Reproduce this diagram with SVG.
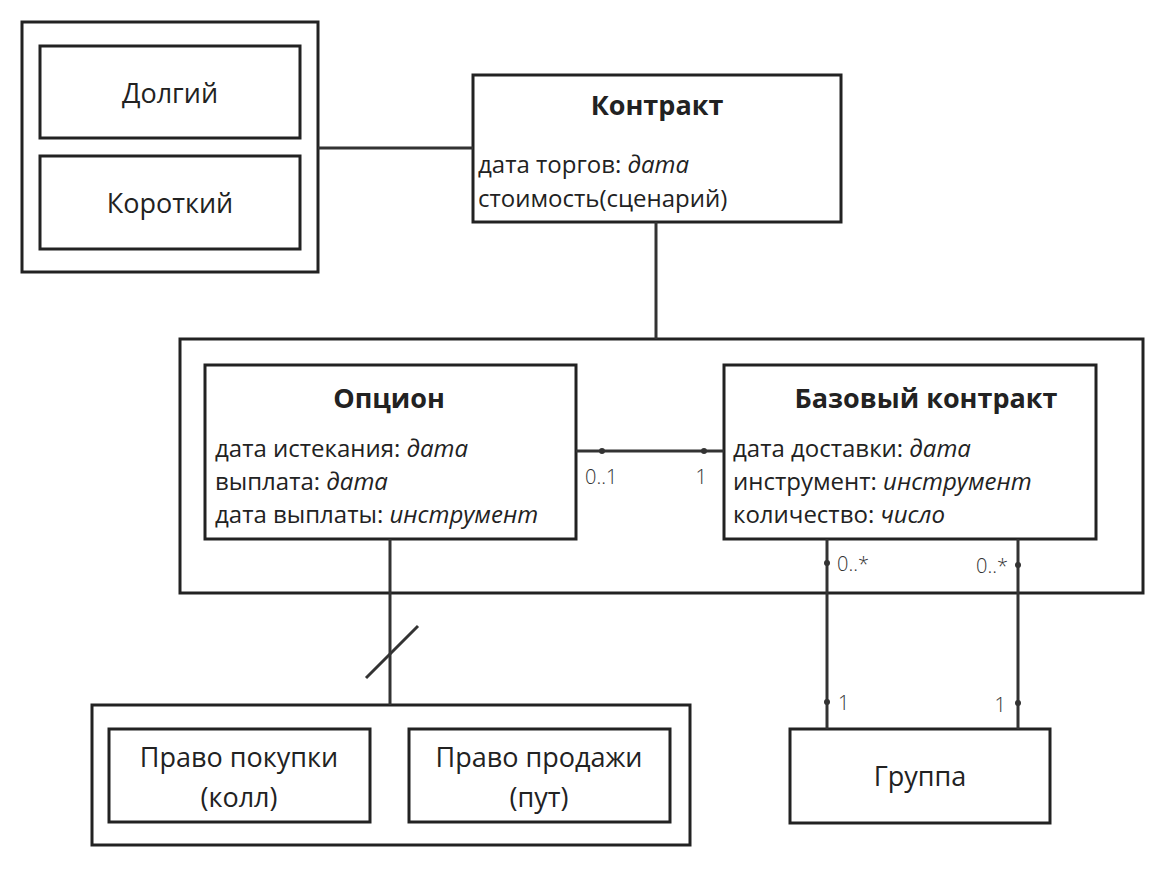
<svg xmlns="http://www.w3.org/2000/svg" width="1157" height="875" viewBox="0 0 1157 875">
<style>
.box{fill:#fff;stroke:#222;stroke-width:3}
.ln{fill:none;stroke:#333;stroke-width:3}
text{font-family:"Open Sans","Noto Sans",sans-serif;fill:#222}
.n{font-size:27px;text-anchor:middle}
.t{font-size:24px}
.b{font-size:27px;font-weight:bold;text-anchor:middle}
.i{font-style:italic}
.m{font-size:20px;font-weight:300;fill:#333}
.e{text-anchor:end}
.dot{fill:#333}
</style>
<rect width="1157" height="875" fill="#fff"/>
<g id="longshort">
<rect class="box" x="22" y="22" width="296" height="250"/>
<g id="long"><rect class="box" x="40" y="46" width="260" height="92"/><text class="n" x="170" y="103">Долгий</text></g>
<g id="short"><rect class="box" x="40" y="156" width="260" height="93"/><text class="n" x="170" y="213">Короткий</text></g>
</g>
<g id="contract">
<rect class="box" x="473" y="75" width="368" height="147"/>
<text class="b" x="657" y="115">Контракт</text>
<text class="t" x="478" y="173">дата торгов: <tspan class="i">дата</tspan></text>
<text class="t" x="478" y="207">стоимость(сценарий)</text>
</g>
<g id="container">
<rect class="box" x="180" y="339" width="963" height="254"/>
</g>
<g id="option">
<rect class="box" x="205" y="365" width="371" height="174"/>
<text class="b" x="389" y="408">Опцион</text>
<text class="t" x="215" y="457">дата истекания: <tspan class="i">дата</tspan></text>
<text class="t" x="215" y="490">выплата: <tspan class="i">дата</tspan></text>
<text class="t" x="215" y="523">дата выплаты: <tspan class="i">инструмент</tspan></text>
</g>
<g id="underlying">
<rect class="box" x="724" y="365" width="372" height="174"/>
<text class="b" x="926" y="408">Базовый контракт</text>
<text class="t" x="733" y="457">дата доставки: <tspan class="i">дата</tspan></text>
<text class="t" x="733" y="490">инструмент: <tspan class="i">инструмент</tspan></text>
<text class="t" x="733" y="523">количество: <tspan class="i">число</tspan></text>
</g>
<g id="callput">
<rect class="box" x="92" y="705" width="598" height="140"/>
<g id="call"><rect class="box" x="109" y="729" width="261" height="93"/><text class="n" x="239" y="767">Право покупки</text><text class="n" x="239" y="807">(колл)</text></g>
<g id="put"><rect class="box" x="409" y="729" width="261" height="93"/><text class="n" x="539" y="767">Право продажи</text><text class="n" x="539" y="807">(пут)</text></g>
</g>
<g id="group">
<rect class="box" x="790" y="729" width="260" height="94"/>
<text class="n" x="920" y="786">Группа</text>
</g>
<g id="connectors">
<line class="ln" x1="318" y1="148" x2="473" y2="148"/>
<line class="ln" x1="656" y1="222" x2="656" y2="339"/>
<line class="ln" x1="576" y1="451" x2="724" y2="451"/>
<circle class="dot" cx="602" cy="451" r="3"/>
<circle class="dot" cx="704" cy="451" r="3"/>
<text class="m" x="585" y="484">0..1</text>
<text class="m e" x="707" y="484">1</text>
<line class="ln" x1="390" y1="539" x2="390" y2="705"/>
<line class="ln" x1="366" y1="678" x2="418" y2="626"/>
<line class="ln" x1="827" y1="539" x2="827" y2="729"/>
<line class="ln" x1="1018" y1="539" x2="1018" y2="729"/>
<circle class="dot" cx="827" cy="563" r="3"/>
<circle class="dot" cx="1018" cy="565" r="3"/>
<circle class="dot" cx="827" cy="702" r="3"/>
<circle class="dot" cx="1018" cy="703" r="3"/>
<text class="m" x="837" y="571">0..*</text>
<text class="m e" x="1008" y="573">0..*</text>
<text class="m" x="838" y="710">1</text>
<text class="m e" x="1006" y="712">1</text>
</g>
</svg>
